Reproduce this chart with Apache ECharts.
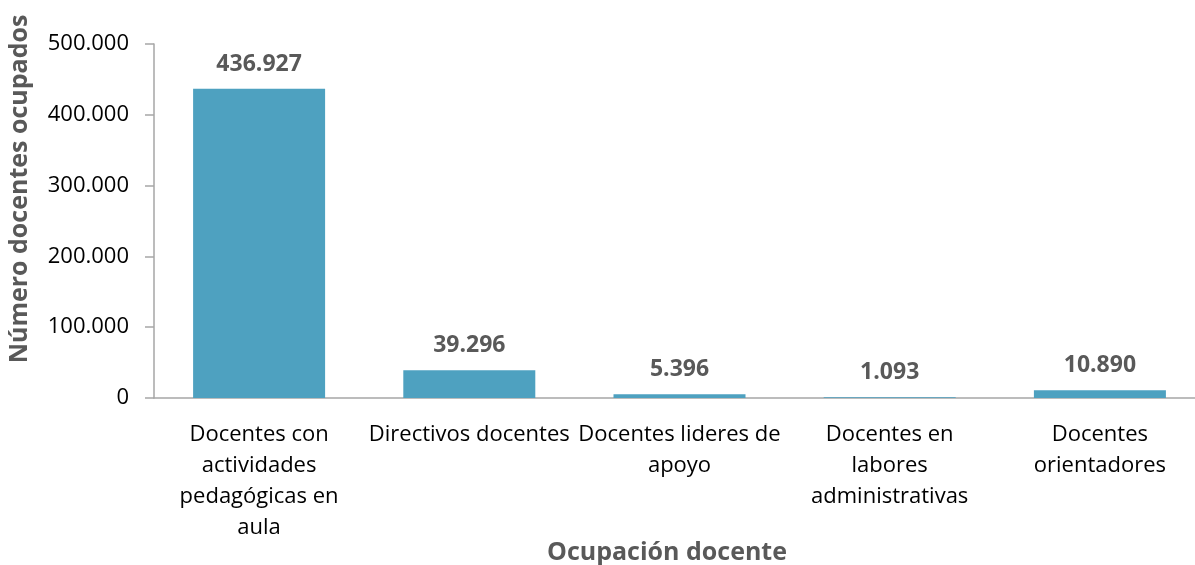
<!DOCTYPE html>
<html>
<head>
<meta charset="utf-8">
<script src="https://cdn.jsdelivr.net/npm/echarts@6/dist/echarts.min.js"></script>
<style>html,body{margin:0;padding:0;background:#fff}#c{width:1195px;height:565px}</style>
</head>
<body>
<div id="c"></div>
<script>
const categories = [
  "Docentes con\nactividades\npedagógicas en\naula",
  "Directivos docentes",
  "Docentes lideres de\napoyo",
  "Docentes en\nlabores\nadministrativas",
  "Docentes\norientadores"
];
const values = [436927, 39296, 5396, 1093, 10890];
const yTicks = [0, 100000, 200000, 300000, 400000, 500000];

function fmt(v) {
  return String(Math.round(v)).replace(/\B(?=(\d{3})+(?!\d))/g, '.');
}

const chart = echarts.init(document.getElementById('c'));
chart.setOption({
  animation: false,
  textStyle: { fontFamily: 'Open Sans' },
  grid: { left: 154, width: 1051, top: 44, bottom: 167, containLabel: false, outerBoundsMode: 'none' },
  xAxis: {
    type: 'category',
    data: categories,
    axisLine: { lineStyle: { color: '#a6a6a6', width: 1.5 } },
    axisTick: { length: 9, lineStyle: { color: '#a6a6a6', width: 1.5 } },
    axisLabel: { color: '#000', fontSize: 22, lineHeight: 31, margin: 21, interval: 0, fontFamily: 'Open Sans' }
  },
  yAxis: {
    type: 'value',
    min: yTicks[0],
    max: yTicks[yTicks.length - 1],
    interval: yTicks[1] - yTicks[0],
    splitLine: { show: false },
    axisLine: { show: true, lineStyle: { color: '#a6a6a6', width: 1.5 } },
    axisTick: { show: true, length: 9, lineStyle: { color: '#a6a6a6', width: 1.5 } },
    axisLabel: { color: '#000', fontSize: 22, margin: 25, formatter: fmt, fontFamily: 'Open Sans' }
  },
  graphic: [
    {
      type: 'text', x: 20, y: 189, rotation: Math.PI / 2,
      style: { text: 'Número docentes ocupados', font: 'bold 25px "Open Sans"', fill: '#595959', align: 'center', verticalAlign: 'middle' }
    },
    {
      type: 'text', x: 667, y: 553,
      style: { text: 'Ocupación docente', font: 'bold 25px "Open Sans"', fill: '#595959', align: 'center', verticalAlign: 'middle' }
    }
  ],
  series: [{
    type: 'bar',
    data: values,
    barWidth: 132,
    itemStyle: { color: '#4ea1c0' },
    label: {
      show: true, position: 'top', distance: 13,
      color: '#595959', fontWeight: 'bold', fontSize: 23, fontFamily: 'Open Sans',
      formatter: p => fmt(p.value)
    }
  }]
});
</script>
</body>
</html>
